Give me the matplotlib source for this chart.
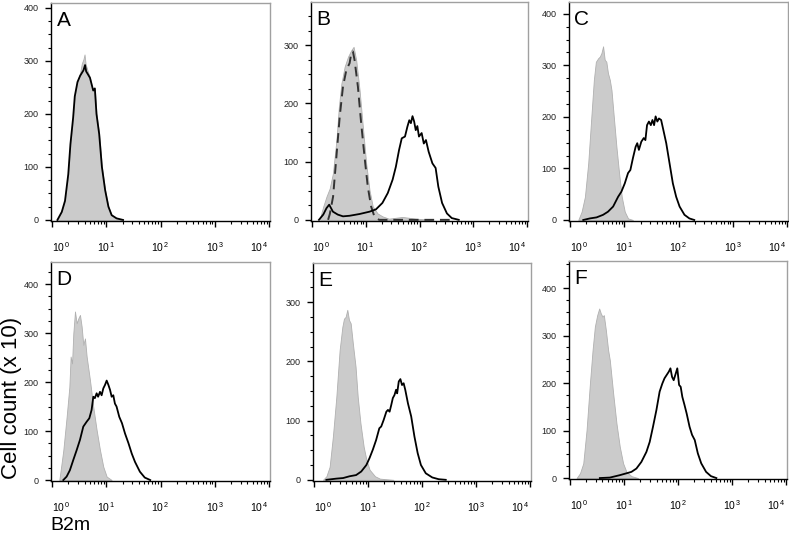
import matplotlib
matplotlib.use('Agg')
import matplotlib.pyplot as plt
import numpy as np
from matplotlib.ticker import MultipleLocator, LogLocator, NullFormatter

plt.rcParams['font.family'] = ['Liberation Sans', 'DejaVu Sans']
plt.rcParams['mathtext.fontset'] = 'custom'
plt.rcParams['mathtext.rm'] = 'Liberation Sans'

# data: log10(fluorescence) positions and cell counts (x 10)
a_gray_log = [0.10, 0.18, 0.24, 0.30, 0.34, 0.39, 0.42, 0.47, 0.52, 0.55, 0.58, 0.60, 0.62, 0.66, 0.70, 0.74, 0.76, 0.79, 0.82, 0.87, 0.92, 0.98, 1.04, 1.10, 1.19, 1.31]
a_gray_cnt = [0, 16, 37, 87, 144, 194, 234, 262, 278, 295, 303, 312, 294, 280, 269, 250, 244, 248, 200, 162, 100, 56, 25, 9, 3, 0]
a_line_log = [0.10, 0.18, 0.24, 0.30, 0.34, 0.39, 0.42, 0.47, 0.52, 0.55, 0.58, 0.61, 0.63, 0.66, 0.70, 0.74, 0.76, 0.79, 0.82, 0.87, 0.92, 0.98, 1.04, 1.10, 1.19, 1.31]
a_line_cnt = [0, 15, 36, 86, 143, 193, 233, 260, 272, 277, 282, 292, 280, 275, 268, 252, 244, 248, 200, 162, 100, 56, 25, 9, 3, 0]

b_gray_log = [0.15, 0.21, 0.27, 0.33, 0.39, 0.455, 0.50, 0.547, 0.608, 0.67, 0.73, 0.774, 0.823, 0.885, 0.946, 1.008, 1.07, 1.13, 1.22, 1.31, 1.43, 1.68, 1.93, 2.24]
b_gray_cnt = [3, 23, 40, 54, 80, 137, 194, 234, 263, 280, 291, 297, 274, 223, 160, 97, 51, 23, 11, 6, 2, 5, 2, 0]
b_dash_log = [0.30, 0.332, 0.393, 0.455, 0.516, 0.577, 0.639, 0.70, 0.731, 0.762, 0.793, 0.854, 0.915, 0.977, 1.038, 1.10, 1.16, 1.25, 2.67]
b_dash_cnt = [0, 10, 40, 109, 177, 229, 257, 269, 286, 289, 274, 229, 166, 109, 57, 23, 6, 0, 0]
b_line_log = [0.13, 0.21, 0.27, 0.32, 0.39, 0.48, 0.577, 0.70, 0.885, 1.07, 1.19, 1.31, 1.41, 1.50, 1.56, 1.62, 1.67, 1.73, 1.775, 1.81, 1.84, 1.87, 1.90, 1.93, 1.96, 1.99, 2.04, 2.08, 2.12, 2.17, 2.24, 2.30, 2.35, 2.42, 2.51, 2.60, 2.73]
b_line_cnt = [0, 9, 20, 26, 14, 9, 6, 7, 10, 14, 18, 29, 46, 69, 91, 120, 140, 143, 160, 171, 166, 178, 169, 154, 161, 143, 149, 131, 137, 117, 97, 89, 57, 29, 11, 3, 0]

c_gray_log = [0.153, 0.214, 0.275, 0.336, 0.398, 0.44, 0.477, 0.52, 0.55, 0.58, 0.61, 0.64, 0.67, 0.70, 0.734, 0.765, 0.807, 0.856, 0.905, 0.954, 1.01, 1.07, 1.16]
c_gray_cnt = [0, 16, 45, 110, 207, 272, 307, 314, 317, 324, 337, 311, 307, 285, 272, 252, 201, 142, 91, 45, 16, 3, 0]
c_line_log = [0.245, 0.367, 0.49, 0.61, 0.70, 0.795, 0.887, 0.948, 1.01, 1.07, 1.113, 1.16, 1.21, 1.24, 1.27, 1.315, 1.36, 1.39, 1.42, 1.455, 1.49, 1.52, 1.55, 1.578, 1.61, 1.64, 1.68, 1.72, 1.774, 1.835, 1.896, 1.957, 2.02, 2.11, 2.20, 2.29]
c_line_cnt = [0, 3, 5, 10, 16, 26, 45, 55, 71, 91, 97, 120, 142, 149, 136, 152, 159, 155, 184, 191, 184, 194, 184, 201, 191, 197, 194, 175, 149, 110, 71, 45, 26, 10, 3, 0]

d_gray_log = [0.135, 0.16, 0.209, 0.27, 0.32, 0.344, 0.37, 0.393, 0.424, 0.455, 0.486, 0.516, 0.547, 0.577, 0.608, 0.639, 0.70, 0.76, 0.823, 0.885, 0.946, 1.008, 1.10]
d_gray_cnt = [0, 20, 61, 129, 190, 252, 238, 299, 344, 320, 330, 337, 313, 276, 289, 252, 204, 150, 102, 61, 27, 7, 0]
d_line_log = [0.209, 0.27, 0.33, 0.393, 0.455, 0.516, 0.577, 0.639, 0.688, 0.73, 0.762, 0.79, 0.823, 0.85, 0.885, 0.915, 0.946, 0.977, 1.008, 1.04, 1.07, 1.10, 1.13, 1.16, 1.19, 1.24, 1.29, 1.346, 1.41, 1.47, 1.53, 1.62, 1.71, 1.81]
d_line_cnt = [0, 7, 20, 41, 61, 82, 109, 119, 126, 143, 170, 167, 177, 170, 180, 173, 187, 194, 203, 194, 184, 170, 173, 156, 150, 129, 116, 95, 75, 54, 37, 17, 5, 0]

e_gray_log = [0.167, 0.23, 0.29, 0.35, 0.414, 0.475, 0.525, 0.555, 0.586, 0.617, 0.648, 0.68, 0.72, 0.77, 0.81, 0.86, 0.92, 0.97, 1.03, 1.13, 1.22, 1.47]
e_gray_cnt = [0, 6, 22, 73, 140, 219, 258, 272, 275, 287, 270, 264, 230, 191, 140, 96, 56, 34, 17, 6, 2, 0]
e_line_log = [0.23, 0.414, 0.54, 0.66, 0.78, 0.875, 0.97, 1.03, 1.09, 1.15, 1.21, 1.245, 1.29, 1.34, 1.37, 1.40, 1.43, 1.46, 1.49, 1.52, 1.54, 1.57, 1.60, 1.63, 1.66, 1.69, 1.74, 1.80, 1.86, 1.92, 1.98, 2.07, 2.19, 2.31, 2.44]
e_line_cnt = [0, 2, 3, 6, 8, 14, 25, 37, 51, 67, 87, 90, 101, 115, 118, 115, 126, 138, 143, 152, 146, 166, 170, 160, 163, 152, 129, 107, 73, 45, 25, 11, 4, 1, 0]

f_gray_log = [0.123, 0.185, 0.246, 0.307, 0.369, 0.418, 0.461, 0.504, 0.541, 0.57, 0.60, 0.627, 0.664, 0.707, 0.738, 0.80, 0.861, 0.922, 0.984, 1.046, 1.138, 1.26]
f_gray_cnt = [0, 10, 31, 101, 199, 269, 319, 343, 357, 347, 340, 343, 312, 269, 248, 178, 115, 66, 31, 13, 4, 0]
f_line_log = [0.553, 0.738, 0.92, 1.046, 1.138, 1.23, 1.322, 1.415, 1.476, 1.537, 1.60, 1.66, 1.71, 1.75, 1.79, 1.83, 1.86, 1.89, 1.92, 1.95, 1.987, 2.02, 2.05, 2.08, 2.12, 2.16, 2.214, 2.26, 2.31, 2.367, 2.43, 2.52, 2.61, 2.71]
f_line_cnt = [0, 1, 6, 10, 13, 20, 34, 55, 76, 108, 143, 182, 199, 210, 217, 224, 231, 213, 206, 217, 231, 196, 192, 171, 154, 136, 108, 91, 80, 52, 31, 13, 4, 0]

panel_letters = ['A', 'B', 'C', 'D', 'E', 'F']
y_tops = [409, 374, 423, 445, 366, 457]
decade_labels = [r'$\mathregular{10^{\,0}}$', r'$\mathregular{10^{\,1}}$', r'$\mathregular{10^{\,2}}$',
                 r'$\mathregular{10^{\,3}}$', r'$\mathregular{10^{\,4}}$']

# axes boxes in pixels: left, top, right, bottom
boxes = [(51, 3, 270, 221), (311, 2, 528, 221), (569, 2, 788, 221),
         (51, 262, 270, 481), (313, 263, 531, 481), (569, 261, 787, 479)]

gray_data = [(a_gray_log, a_gray_cnt), (b_gray_log, b_gray_cnt), (c_gray_log, c_gray_cnt),
             (d_gray_log, d_gray_cnt), (e_gray_log, e_gray_cnt), (f_gray_log, f_gray_cnt)]
line_data = [(a_line_log, a_line_cnt), (b_line_log, b_line_cnt), (c_line_log, c_line_cnt),
             (d_line_log, d_line_cnt), (e_line_log, e_line_cnt), (f_line_log, f_line_cnt)]

W, H = 789, 533
fig = plt.figure(figsize=(W / 100, H / 100), dpi=100)

for i in range(6):
    l, t, r, b = boxes[i]
    ax = fig.add_axes([l / W, 1 - b / H, (r - l) / W, (b - t) / H])
    gl, gc = gray_data[i]
    ax.fill_between(10 ** np.array(gl), gc, 0, facecolor='#cbcbcb', edgecolor='#b0b0b0', lw=0.6, zorder=1)
    if i == 1:
        ax.plot(10 ** np.array(b_dash_log), b_dash_cnt, color='#333333', lw=1.4, dashes=(5, 3), zorder=2)
    ll, lc = line_data[i]
    ax.plot(10 ** np.array(ll), lc, color='black', lw=1.3, zorder=3)

    ax.set_xscale('log')
    ax.set_xlim(10 ** -0.018, 10 ** 4.018)
    ax.set_ylim(-2, y_tops[i])
    ax.set_xticks([1, 10, 100, 1000, 10000])
    ax.set_xticklabels(decade_labels, fontsize=7.5)
    labs = ax.get_xticklabels()
    labs[0].set_ha('left')
    labs[-1].set_ha('right')
    ax.xaxis.set_minor_locator(LogLocator(base=10, subs=range(2, 10)))
    ax.xaxis.set_minor_formatter(NullFormatter())
    ax.yaxis.set_major_locator(MultipleLocator(100))
    ax.yaxis.set_minor_locator(MultipleLocator(25))

    for side in ['top', 'right']:
        ax.spines[side].set_color('#a0a0a0')
        ax.spines[side].set_linewidth(1)
    for side in ['left', 'bottom']:
        ax.spines[side].set_color('black')
        ax.spines[side].set_linewidth(1)

    ax.tick_params(axis='both', which='major', direction='out', length=4, width=1, color='black')
    ax.tick_params(axis='both', which='minor', direction='out', length=2.5, width=0.8, color='black')
    ax.tick_params(axis='x', which='major', pad=10)
    ax.tick_params(axis='y', which='major', labelsize=6.5, pad=5, labelcolor='#222222')

    ax.text(0.025, 0.965, panel_letters[i], transform=ax.transAxes, fontsize=15,
            ha='left', va='top')

fig.text(12 / W, 1 - 398 / H, 'Cell count (x 10)', rotation=90, fontsize=16,
         ha='center', va='center')
fig.text(50 / W, 1 - 525 / H, 'B2m', fontsize=14, ha='left', va='center')

fig.savefig('out.png', dpi=100)
